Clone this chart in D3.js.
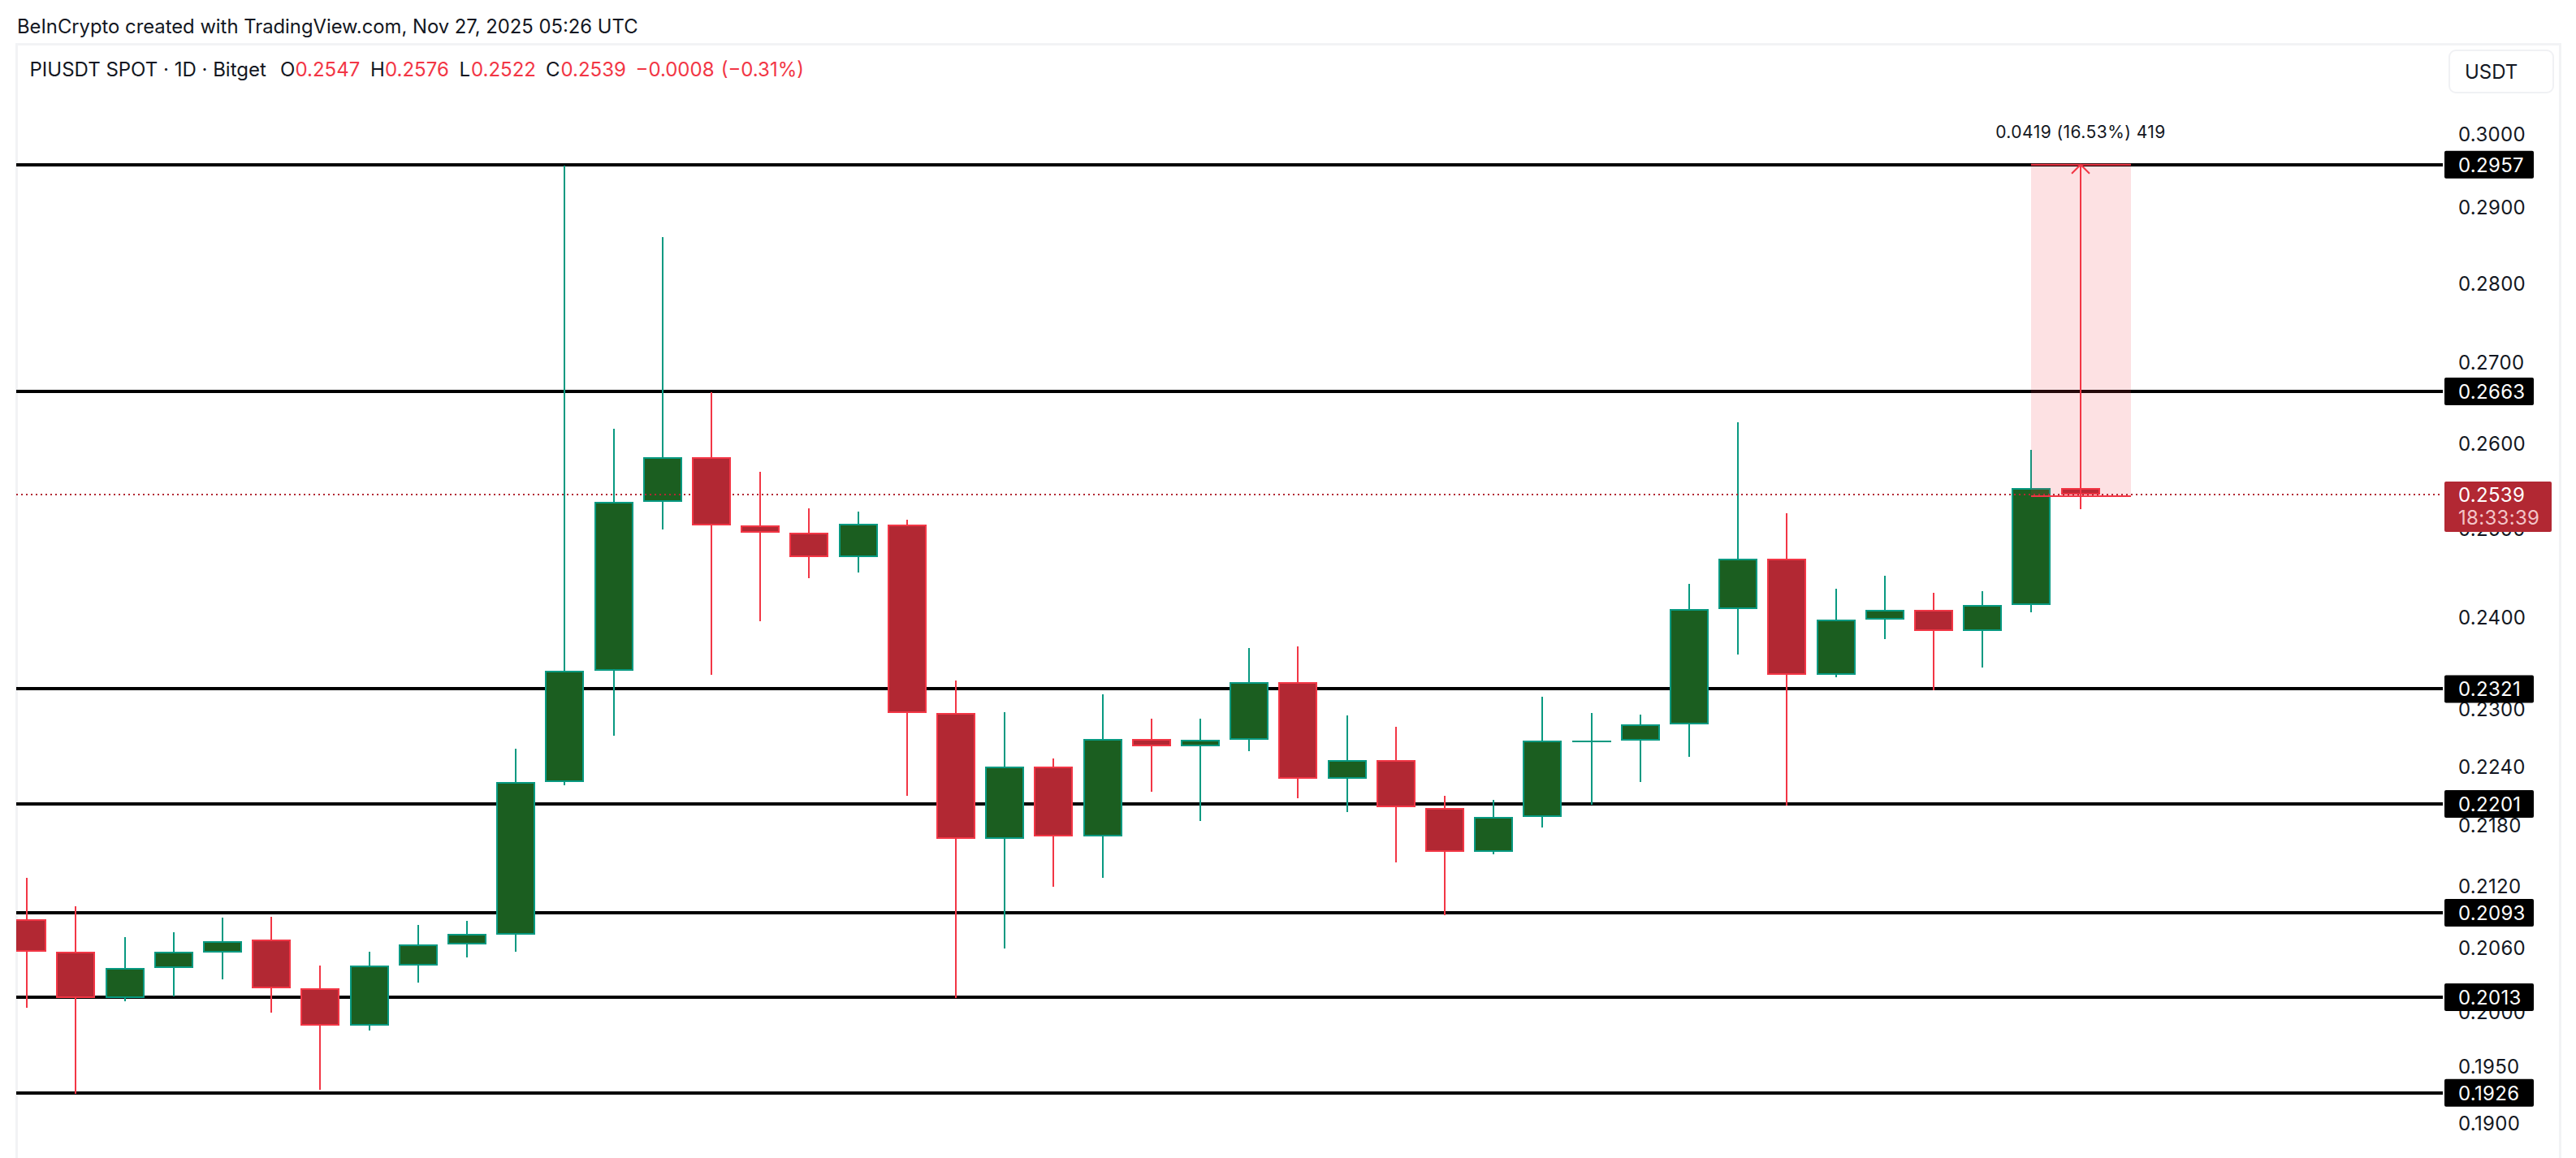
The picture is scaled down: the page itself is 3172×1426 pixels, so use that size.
<!DOCTYPE html>
<html>
<head>
<meta charset="utf-8">
<script src="https://cdn.jsdelivr.net/npm/d3@7"></script>
<style>
  body { margin: 0; background: #fff; }
  text { font-family: Inter, sans-serif; fill: #131722; }
  .tick text { font-size: 24px; letter-spacing: 0.3px; }
  .crisp { shape-rendering: crispEdges; }
</style>
</head>
<body>
<div id="chart"></div>
<script>
// daily candles
const opens  = [.2087,.2056,.2012,.2040,.2055,.2067,.2021,.1987,.2043,.2063,.2072,.2223,.2341,.2531,.2583,.2503,.2495,.2467,.2504,.2295,.2166,.2239,.2168,.2268,.2260,.2267,.2328,.2227,.2246,.2197,.2153,.2188,.2266,.2266,.2283,.2408,.2465,.2336,.2397,.2407,.2384,.2413,.2547];
const closes = [.2056,.2012,.2040,.2056,.2066,.2021,.1987,.2043,.2063,.2073,.2223,.2341,.2531,.2583,.2503,.2495,.2467,.2505,.2295,.2166,.2239,.2168,.2268,.2260,.2267,.2328,.2227,.2246,.2198,.2153,.2188,.2266,.2266,.2283,.2408,.2465,.2336,.2397,.2407,.2384,.2413,.2547,.2539];
const highs  = [.2127,.2099,.2070,.2074,.2088,.2089,.2043,.2056,.2081,.2085,.2258,.2956,.2617,.2860,.2662,.2566,.2523,.2519,.2510,.2330,.2296,.2248,.2315,.2289,.2289,.2365,.2367,.2293,.2281,.2209,.2205,.2313,.2295,.2294,.2436,.2625,.2517,.2431,.2446,.2426,.2428,.2592,.2576];
const lows   = [.2003,.1925,.2009,.2014,.2030,.1999,.1929,.1982,.2027,.2050,.2056,.2220,.2271,.2498,.2336,.2395,.2443,.2449,.2209,.2012,.2059,.2118,.2127,.2213,.2184,.2255,.2207,.2193,.2142,.2091,.2150,.2177,.2200,.2223,.2249,.2358,.2199,.2334,.2375,.2320,.2344,.2405,.2522];

// horizontal levels and price axis ticks
const levels = [.2957,.2663,.2321,.2201,.2093,.2013,.1926];
const tickValues = [.3,.29,.28,.27,.26,.25,.24,.23,.224,.218,.212,.206,.2,.195,.19];
const lastPrice = .2539;
const countdown = "18:33:39";
const measureFrom = .2539, measureTo = .2957;
const measureLabel = "0.0419 (16.53%) 419";

const width = 3172, height = 1426;
const plotLeft = 20, plotRight = 3008, frameRight = 3152, frameTop = 54;
const candleW = 48, border = 2;

const green = "#089981", greenBody = "#1b5e20", red = "#f23645", redBody = "#b22833";
const fmt = d3.format(".4f");

const svg = d3.select("#chart").append("svg")
  .attr("width", width)
  .attr("height", height)
  .style("display", "block");

// price scale is logarithmic on this chart
const y = d3.scaleLog().domain([.3, .19]).range([164.3, 1382]);
const x = d3.scaleLinear().domain([0, opens.length - 1]).range([33.2, 2561.5]);
const cx = i => Math.round(x(i));

svg.append("defs").append("clipPath").attr("id", "plot")
  .append("rect")
    .attr("x", plotLeft)
    .attr("y", frameTop)
    .attr("width", frameRight - plotLeft)
    .attr("height", height - frameTop);

// frame
svg.append("path")
  .attr("class", "crisp")
  .attr("d", `M${plotLeft},${height}V${frameTop}H${frameRight}V${height}`)
  .attr("fill", "none")
  .attr("stroke", "#f2f3f5")
  .attr("stroke-width", 3);

// header
svg.append("text").attr("x", 21).attr("y", 41).attr("font-size", 23.8)
  .text("BeInCrypto created with TradingView.com, Nov 27, 2025 05:26 UTC");

const legend = [
  ["PIUSDT SPOT · 1D · Bitget", 36.5, "#131722"],
  ["O", 345, "#131722"], ["0.2547", 363.5, red],
  ["H", 456, "#131722"], ["0.2576", 474, red],
  ["L", 565.6, "#131722"], ["0.2522", 580, red],
  ["C", 672, "#131722"], ["0.2539", 690.5, red],
  ["−0.0008", 782.5, red], ["(−0.31%)", 887.7, red]
];
svg.append("g").selectAll("text").data(legend).join("text")
  .attr("x", d => d[1])
  .attr("y", 94)
  .attr("font-size", 24)
  .style("fill", d => d[2])
  .text(d => d[0]);

// USDT button
svg.append("rect")
  .attr("x", 3016).attr("y", 62).attr("width", 128).attr("height", 52).attr("rx", 8)
  .attr("fill", "#fff").attr("stroke", "#f0f1f4").attr("stroke-width", 2);
svg.append("text").attr("x", 3035).attr("y", 97).attr("font-size", 24).text("USDT");

// price axis
const axis = svg.append("g")
  .attr("transform", "translate(3027,0)")
  .call(d3.axisRight(y).tickValues(tickValues).tickFormat(fmt).tickSize(0).tickPadding(0));
axis.select(".domain").remove();
axis.selectAll(".tick text").attr("dy", "0.38em");

// level lines
svg.append("g").attr("class", "crisp").selectAll("line").data(levels).join("line")
  .attr("x1", plotLeft)
  .attr("x2", plotRight)
  .attr("y1", d => y(d))
  .attr("y2", d => y(d))
  .attr("stroke", "#000")
  .attr("stroke-width", 4);

// candles
const candles = svg.append("g").attr("clip-path", "url(#plot)").attr("class", "crisp")
  .selectAll("g").data(d3.range(opens.length)).join("g");

candles.append("line")
  .attr("x1", i => cx(i))
  .attr("x2", i => cx(i))
  .attr("y1", i => y(highs[i]))
  .attr("y2", i => y(lows[i]))
  .attr("stroke", i => closes[i] >= opens[i] ? green : red)
  .attr("stroke-width", 2);

// outer rect is the border, inner rect the fill
candles.append("rect")
  .attr("x", i => cx(i) - candleW / 2)
  .attr("y", i => y(Math.max(opens[i], closes[i])))
  .attr("width", candleW)
  .attr("height", i => Math.max(2, Math.abs(y(opens[i]) - y(closes[i]))))
  .attr("fill", i => closes[i] >= opens[i] ? green : red);

candles.append("rect")
  .attr("x", i => cx(i) - candleW / 2 + border)
  .attr("y", i => y(Math.max(opens[i], closes[i])) + border)
  .attr("width", candleW - 2 * border)
  .attr("height", i => Math.max(0, Math.abs(y(opens[i]) - y(closes[i])) - 2 * border))
  .attr("fill", i => closes[i] >= opens[i] ? greenBody : redBody);

// last price dotted line
svg.append("line")
  .attr("class", "crisp")
  .attr("x1", plotLeft)
  .attr("x2", plotRight)
  .attr("y1", y(lastPrice))
  .attr("y2", y(lastPrice))
  .attr("stroke", redBody)
  .attr("stroke-width", 2)
  .attr("stroke-dasharray", "2 4");

// measure tool
const mx0 = 2501, mx1 = 2624, mxc = cx(opens.length - 1);
const my0 = y(measureTo), my1 = y(measureFrom) + 2;
svg.append("rect")
  .attr("class", "crisp")
  .attr("x", mx0).attr("y", my0).attr("width", mx1 - mx0).attr("height", my1 - my0)
  .attr("fill", red).attr("fill-opacity", 0.15);
svg.append("path")
  .attr("d", `M${mx0},${my0}H${mx1}M${mx0},${my1}H${mx1}M${mxc},${my1}V${my0}M${mxc - 11},${my0 + 11}L${mxc},${my0}L${mxc + 11},${my0 + 11}`)
  .attr("fill", "none")
  .attr("stroke", red)
  .attr("stroke-width", 2);
svg.append("text")
  .attr("x", mxc).attr("y", 170).attr("text-anchor", "middle")
  .attr("font-size", 21).attr("letter-spacing", 0.45)
  .text(measureLabel);

// level labels
const tags = svg.append("g").selectAll("g").data(levels).join("g")
  .attr("transform", d => `translate(3010,${y(d)})`);
tags.append("rect")
  .attr("y", -17).attr("width", 110).attr("height", 34).attr("rx", 2)
  .attr("fill", "#000");
tags.append("text")
  .attr("x", 17).attr("y", 9).attr("font-size", 24).attr("letter-spacing", 0.3)
  .style("fill", "#fff")
  .text(fmt);

// last price label
const py = y(lastPrice);
svg.append("rect")
  .attr("x", 3010).attr("y", py - 16).attr("width", 132).attr("height", 62).attr("rx", 2)
  .attr("fill", redBody);
svg.append("text")
  .attr("x", 3027).attr("y", py + 9).attr("font-size", 24).attr("letter-spacing", 0.3)
  .style("fill", "#fff")
  .text(fmt(lastPrice));
svg.append("text")
  .attr("x", 3027).attr("y", py + 37).attr("font-size", 24).attr("letter-spacing", 0.3)
  .style("fill", "#f2c4c8")
  .text(countdown);
</script>
</body>
</html>
